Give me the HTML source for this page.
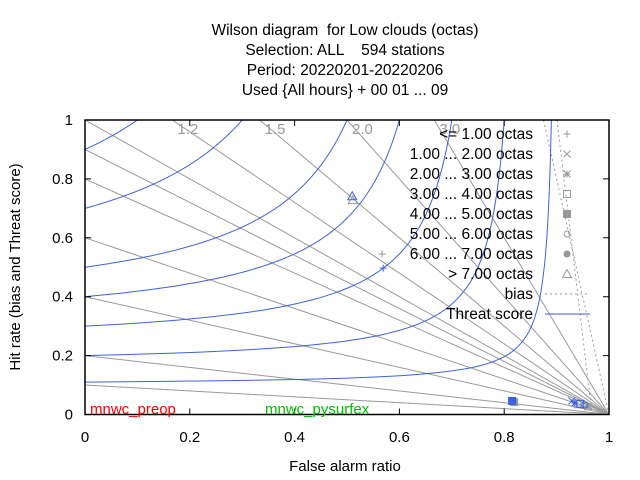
<!DOCTYPE html>
<html><head><meta charset="utf-8"><style>
body{margin:0;background:#fff}
svg{display:block;font-family:"Liberation Sans",sans-serif}
text{white-space:pre}
</style></head><body>
<svg id="chart" width="640" height="480" viewBox="0 0 640 480">
<g font-size="15.5" text-anchor="middle" fill="#000">
<text x="345" y="35" xml:space="preserve">Wilson diagram  for Low clouds (octas)</text>
<text x="345" y="55" xml:space="preserve">Selection: ALL    594 stations</text>
<text x="345" y="75">Period: 20220201-20220206</text>
<text x="345" y="95">Used {All hours} + 00 01 ... 09</text>
</g>
<g id="grid"></g>
<g id="marks"></g>
<g id="axes"></g>
<text x="345" y="471" font-size="15" text-anchor="middle">False alarm ratio</text>
<text x="20" y="267" font-size="15" text-anchor="middle" transform="rotate(-90 20 267)">Hit rate (bias and Threat score)</text>
<text x="90" y="414" font-size="15" fill="#ff0000">mnwc_preop</text>
<text x="265" y="414" font-size="15" fill="#00c000">mnwc_pysurfex</text>
<g id="legend"></g>
</svg>
<script>
const xTicks=[0,0.2,0.4,0.6,0.8,1];
const yTicks=[0,0.2,0.4,0.6,0.8,1];
const xTickLabels=["0","0.2","0.4","0.6","0.8","1"];
const yTickLabels=["0","0.2","0.4","0.6","0.8","1"];
const biasValues=[0.1,0.2,0.4,0.6,0.8,0.9,1,1.2,1.5,2,3];
const biasLabelled=[1.2,1.5,2.0,3.0];
const biasDotted=[8];
const tsValues=[0.11,0.2,0.3,0.4,0.5,0.7,0.9];
const legendLabels=["<= 1.00 octas","1.00 ... 2.00 octas","2.00 ... 3.00 octas","3.00 ... 4.00 octas","4.00 ... 5.00 octas","5.00 ... 6.00 octas","6.00 ... 7.00 octas","> 7.00 octas"];
const legendSymbols=["plus","cross","star","box","fbox","circle","fcircle","tri"];
const preopFar=[0.511,0.567,0.819,0.94,0.95,0.96];
const preopHit=[0.728,0.545,0.042,0.035,0.03,0.025];
const preopSym=["tri","plus","fbox","box","circle","star"];
const pysFar=[0.510,0.569,0.815,0.929,0.935,0.945,0.954];
const pysHit=[0.741,0.497,0.046,0.046,0.039,0.036,0.032];
const pysSym=["tri","plus","fbox","cross","star","box","circle"];

const X0=85,X1=609,Y0=414.5,Y1=120;
const sx=v=>X0+v*(X1-X0), sy=v=>Y0-v*(Y0-Y1);
const NS="http://www.w3.org/2000/svg";
function mk(tag,attrs,parent){const e=document.createElementNS(NS,tag);for(const k in attrs)e.setAttribute(k,attrs[k]);parent.appendChild(e);return e;}
const grid=document.getElementById('grid'),marks=document.getElementById('marks'),axes=document.getElementById('axes'),legend=document.getElementById('legend');

function clipLine(B){
  let f0,h0; if(B<=1){f0=0;h0=B;} else {f0=1-1/B;h0=1;}
  return [sx(f0),sy(h0),sx(1),sy(0)];
}
biasValues.forEach(B=>{
  const c=clipLine(B);
  const l=mk('line',{x1:c[0],y1:c[1],x2:c[2],y2:c[3],stroke:'#999','stroke-width':1},grid);
  
  
});
biasDotted.forEach(B=>{
  const c=clipLine(B);
  const l=mk('line',{x1:c[0],y1:c[1],x2:c[2],y2:c[3],stroke:'#999','stroke-width':1,'stroke-dasharray':'2,3'},grid);
  
  
});
const l2=mk('line',{x1:557,y1:120,x2:592,y2:414,stroke:'#999','stroke-width':1,'stroke-dasharray':'2,3'},grid);


biasLabelled.forEach(B=>{
  const t=mk('text',{x:sx(1-1/B)+5,y:sy(1)+14,'font-size':15,fill:'#999'},grid);
  t.textContent=B.toFixed(1);
  
  
});
tsValues.forEach(T=>{
  let pts=[];
  for(let i=0;i<=200;i++){
    const H=T+(1-T)*i/200;
    const inv=1/T+1-1/H; const F=1-1/inv;
    pts.push(sx(Math.max(0,F)).toFixed(1)+','+sy(H).toFixed(1));
  }
  const p=mk('polyline',{points:pts.join(' '),fill:'none',stroke:'#3a62e0','stroke-width':1},grid);
  
  
});
function sym(type,x,y,color,parent){
  const g=mk('g',{stroke:color,fill:'none','stroke-width':1},parent);
  const s=3.5;
  if(type==='plus'){mk('path',{d:`M${x-s} ${y}H${x+s}M${x} ${y-s}V${y+s}`},g);}
  else if(type==='cross'){mk('path',{d:`M${x-s} ${y-s}L${x+s} ${y+s}M${x-s} ${y+s}L${x+s} ${y-s}`},g);}
  else if(type==='star'){mk('path',{d:`M${x-s} ${y}H${x+s}M${x} ${y-s}V${y+s}M${x-s} ${y-s}L${x+s} ${y+s}M${x-s} ${y+s}L${x+s} ${y-s}`},g);}
  else if(type==='box'){mk('rect',{x:x-s,y:y-s,width:2*s,height:2*s},g);}
  else if(type==='fbox'){mk('rect',{x:x-s,y:y-s,width:2*s,height:2*s,fill:color},g);}
  else if(type==='circle'){mk('circle',{cx:x,cy:y,r:3},g);}
  else if(type==='fcircle'){mk('circle',{cx:x,cy:y,r:3,fill:color},g);}
  else if(type==='tri'){mk('path',{d:`M${x} ${y-s-1}L${x+s+1} ${y+s}L${x-s-1} ${y+s}Z`},g);}
  return g;
}
preopFar.forEach((f,i)=>{
  const g=sym(preopSym[i],sx(f),sy(preopHit[i]),'#999',marks);
  
  
});
pysFar.forEach((f,i)=>{
  const g=sym(pysSym[i],sx(f),sy(pysHit[i]),'#3a62e0',marks);
  
  
});
const frame=mk('rect',{x:X0,y:Y1,width:X1-X0,height:Y0-Y1,fill:'none',stroke:'#000','stroke-width':1.5},axes);


xTicks.forEach((v,i)=>{
  const x=sx(v);
  mk('path',{d:`M${x} ${Y0}v-6M${x} ${Y1}v6`,stroke:'#000'},axes);
  const t=mk('text',{x:x,y:442,'font-size':15,'text-anchor':'middle'},axes);
  t.textContent=xTickLabels[i];
  
  
});
yTicks.forEach((v,i)=>{
  const y=sy(v);
  mk('path',{d:`M${X0} ${y}h6M${X1} ${y}h-6`,stroke:'#000'},axes);
  const t=mk('text',{x:73,y:y+5,'font-size':15,'text-anchor':'end'},axes);
  t.textContent=yTickLabels[i];
  
  
});
legendLabels.forEach((lab,i)=>{
  const y=134+i*20;
  const t=mk('text',{x:533,y:y+5,'font-size':15.5,'text-anchor':'end'},legend);
  t.textContent=lab;
  
  
  sym(legendSymbols[i],567,y,'#999',legend);
});
let t=mk('text',{x:533,y:299,'font-size':15.5,'text-anchor':'end'},legend);t.textContent='bias';


mk('line',{x1:545,y1:294,x2:590,y2:294,stroke:'#999','stroke-dasharray':'2,3'},legend);
t=mk('text',{x:533,y:319,'font-size':15.5,'text-anchor':'end'},legend);t.textContent='Threat score';


mk('line',{x1:545,y1:314,x2:590,y2:314,stroke:'#3a62e0'},legend);
</script>
</body></html>
